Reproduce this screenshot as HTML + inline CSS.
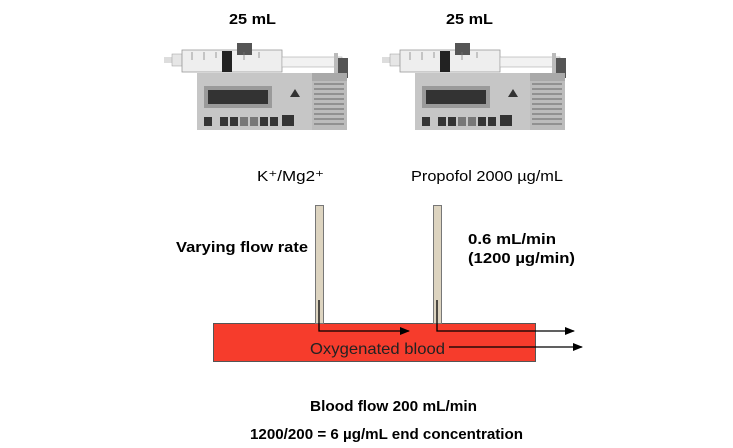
<!DOCTYPE html>
<html><head><meta charset="utf-8"><style>
body{margin:0;background:#fff}
svg{display:block}
text{font-family:"Liberation Sans",sans-serif}
</style></head><body>
<svg width="733" height="448" viewBox="0 0 733 448" xmlns="http://www.w3.org/2000/svg">
<defs>
<marker id="ah" markerWidth="10" markerHeight="8" refX="9" refY="4" orient="auto" markerUnits="userSpaceOnUse">
<path d="M0,0 L10,4 L0,8 z" fill="#000"/></marker>
<g id="pump">
  <rect x="0" y="57" width="8" height="6" fill="#ddd"/>
  <rect x="8" y="54" width="10" height="12" fill="#e6e6e6" stroke="#999" stroke-width="0.5"/>
  <rect x="18" y="50" width="100" height="22" fill="#eee" stroke="#999" stroke-width="0.8"/>
  <rect x="118" y="57" width="60" height="10" fill="#f2f2f2" stroke="#aaa" stroke-width="0.6"/>
  <rect x="170" y="53" width="4" height="20" fill="#bbb"/>
  <rect x="174" y="58" width="10" height="20" fill="#555"/>
  <rect x="58" y="51" width="10" height="21" fill="#222"/>
  <rect x="73" y="43" width="15" height="12" fill="#555"/>
  <path d="M28 52v8M40 52v8M52 52v6M80 52v8M95 52v6" stroke="#777" stroke-width="0.7"/>
  <rect x="33" y="73" width="150" height="57" fill="#bcbcbc"/>
  <rect x="33" y="73" width="150" height="8" fill="#a9a9a9"/>
  <rect x="33" y="73" width="115" height="57" fill="#c6c6c6"/>
  <rect x="40" y="86" width="68" height="22" fill="#9a9a9a"/>
  <rect x="44" y="90" width="60" height="14" fill="#333"/>
  <g fill="#333">
    <rect x="40" y="117" width="8" height="9"/><rect x="56" y="117" width="8" height="9"/>
    <rect x="66" y="117" width="8" height="9"/><rect x="76" y="117" width="8" height="9" fill="#777"/>
    <rect x="86" y="117" width="8" height="9" fill="#777"/><rect x="96" y="117" width="8" height="9"/>
    <rect x="106" y="117" width="8" height="9"/><rect x="118" y="115" width="12" height="11"/>
  </g>
  <path d="M126 97 l5 -8 l5 8z" fill="#333"/>
  <g stroke="#666" stroke-width="1">
    <path d="M150 84h30M150 89h30M150 94h30M150 99h30M150 104h30M150 109h30M150 114h30M150 119h30M150 124h30"/>
  </g>
</g>
</defs>
<use href="#pump" x="164" y="0"/>
<use href="#pump" x="382" y="0"/>
<text x="229" y="24" font-size="15" font-weight="bold" textLength="47" lengthAdjust="spacingAndGlyphs">25 mL</text>
<text x="446" y="24" font-size="15" font-weight="bold" textLength="47" lengthAdjust="spacingAndGlyphs">25 mL</text>
<text x="257" y="181" font-size="15" textLength="67" lengthAdjust="spacingAndGlyphs">K⁺/Mg2⁺</text>
<text x="411" y="181" font-size="15" textLength="152" lengthAdjust="spacingAndGlyphs">Propofol 2000 µg/mL</text>
<text x="176" y="252" font-size="15" font-weight="bold" textLength="132" lengthAdjust="spacingAndGlyphs">Varying flow rate</text>
<text x="468" y="244" font-size="15" font-weight="bold" textLength="88" lengthAdjust="spacingAndGlyphs">0.6 mL/min</text>
<text x="468" y="263" font-size="15" font-weight="bold" textLength="107" lengthAdjust="spacingAndGlyphs">(1200 µg/min)</text>
<rect x="213.5" y="323.5" width="322" height="38" fill="#f63c2c" stroke="#555" stroke-width="1"/>
<rect x="315.5" y="205.5" width="8" height="118" fill="#ddd4c0" stroke="#777" stroke-width="1"/>
<rect x="433.5" y="205.5" width="8" height="118" fill="#ddd4c0" stroke="#777" stroke-width="1"/>
<path d="M319 300 V331 H409" stroke="#000" stroke-width="1.3" fill="none" marker-end="url(#ah)"/>
<path d="M437 300 V331 H574" stroke="#000" stroke-width="1.3" fill="none" marker-end="url(#ah)"/>
<path d="M449 347 H582" stroke="#000" stroke-width="1.3" fill="none" marker-end="url(#ah)"/>
<text x="310" y="354" font-size="16" fill="#222" textLength="135" lengthAdjust="spacingAndGlyphs">Oxygenated blood</text>
<text x="310" y="411" font-size="15" font-weight="bold" textLength="167" lengthAdjust="spacingAndGlyphs">Blood flow 200 mL/min</text>
<text x="250" y="439" font-size="15" font-weight="bold" textLength="273" lengthAdjust="spacingAndGlyphs">1200/200 = 6 µg/mL end concentration</text>
</svg>
</body></html>
